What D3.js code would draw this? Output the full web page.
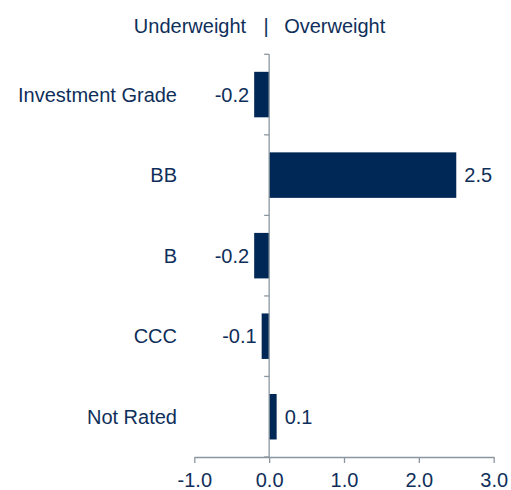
<!DOCTYPE html>
<html>
<head>
<meta charset="utf-8">
<script src="https://cdn.jsdelivr.net/npm/d3@7"></script>
<style>
    body { margin: 0; background: #fff; }
    text { font-family: "Liberation Sans", Arial, sans-serif; fill: #0f2f5a; }
</style>
</head>
<body>
<div id="chart"></div>
<script>
// the data
var categories = ["Investment Grade", "BB", "B", "CCC", "Not Rated"];
var values = [-0.2, 2.5, -0.2, -0.1, 0.1];
var tickValues = [-1, 0, 1, 2, 3];

var width = 511,
    height = 490;

var barColor = "#002856",
    axisColor = "#8c96a0";

// one decimal, plain hyphen for negatives
var fmt = d3.formatLocale({
    decimal: ".", thousands: ",", grouping: [3], currency: ["", ""], minus: "-"
}).format(".1f");

var svg = d3.select("#chart").append("svg")
    .attr("width", width)
    .attr("height", height);

// scales
var x = d3.scaleLinear()
    .domain([-1, 3])
    .range([194.3, 493.7]);

var y = d3.scaleBand()
    .domain(categories)
    .range([54.3, 457])
    .paddingInner(0.435)
    .paddingOuter(0.435 / 2);

// header
svg.append("text")
    .attr("x", x(0) - 23)
    .attr("y", 33)
    .style("font-size", "20px")
    .style("text-anchor", "end")
    .text("Underweight");
svg.append("text")
    .attr("x", x(0) - 3)
    .attr("y", 33)
    .style("font-size", "20px")
    .style("text-anchor", "middle")
    .text("|");
svg.append("text")
    .attr("x", x(0) + 15)
    .attr("y", 33)
    .style("font-size", "20px")
    .text("Overweight");

// bars
svg.selectAll(".bar")
    .data(values)
    .enter()
    .append("rect")
    .attr("class", "bar")
    .attr("x", function (d) { return x(Math.min(0, d)); })
    .attr("y", function (d, i) { return y(categories[i]); })
    .attr("width", function (d) { return Math.abs(x(d) - x(0)); })
    .attr("height", y.bandwidth())
    .attr("fill", barColor);

// value labels
svg.selectAll(".val")
    .data(values)
    .enter()
    .append("text")
    .attr("class", "val")
    .attr("x", function (d) { return d < 0 ? x(d) - 5 : x(d) + 8; })
    .attr("y", function (d, i) { return y(categories[i]) + y.bandwidth() / 2; })
    .attr("dy", "0.35em")
    .style("font-size", "20px")
    .style("text-anchor", function (d) { return d < 0 ? "end" : "start"; })
    .text(function (d) { return fmt(d); });

// category labels
svg.selectAll(".cat")
    .data(categories)
    .enter()
    .append("text")
    .attr("class", "cat")
    .attr("x", 177)
    .attr("y", function (d) { return y(d) + y.bandwidth() / 2; })
    .attr("dy", "0.35em")
    .style("font-size", "20px")
    .style("text-anchor", "end")
    .text(function (d) { return d; });

// vertical axis at zero with category separators
var yAxis = svg.append("g").attr("class", "yaxis");
yAxis.append("line")
    .attr("x1", x(0)).attr("x2", x(0))
    .attr("y1", y.range()[0]).attr("y2", y.range()[1])
    .attr("stroke", axisColor)
    .attr("stroke-width", 1.3);
yAxis.selectAll(".sep")
    .data(d3.range(categories.length + 1))
    .enter()
    .append("line")
    .attr("class", "sep")
    .attr("x1", x(0) - 5).attr("x2", x(0))
    .attr("y1", function (i) { return y.range()[0] + i * y.step(); })
    .attr("y2", function (i) { return y.range()[0] + i * y.step(); })
    .attr("stroke", axisColor)
    .attr("stroke-width", 1.3);

// x axis
var xAxis = svg.append("g")
    .attr("transform", "translate(0," + y.range()[1] + ")")
    .call(d3.axisBottom(x)
        .tickValues(tickValues)
        .tickFormat(fmt)
        .tickSizeInner(6)
        .tickSizeOuter(0)
        .tickPadding(10));
xAxis.select(".domain").attr("stroke", axisColor).attr("stroke-width", 1.3);
xAxis.selectAll(".tick line").attr("stroke", axisColor).attr("stroke-width", 1.3);
xAxis.selectAll(".tick text")
    .attr("fill", "#0f2f5a")
    .style("font-size", "20px")
    .style("font-family", "Liberation Sans, Arial, sans-serif");
</script>
</body>
</html>
